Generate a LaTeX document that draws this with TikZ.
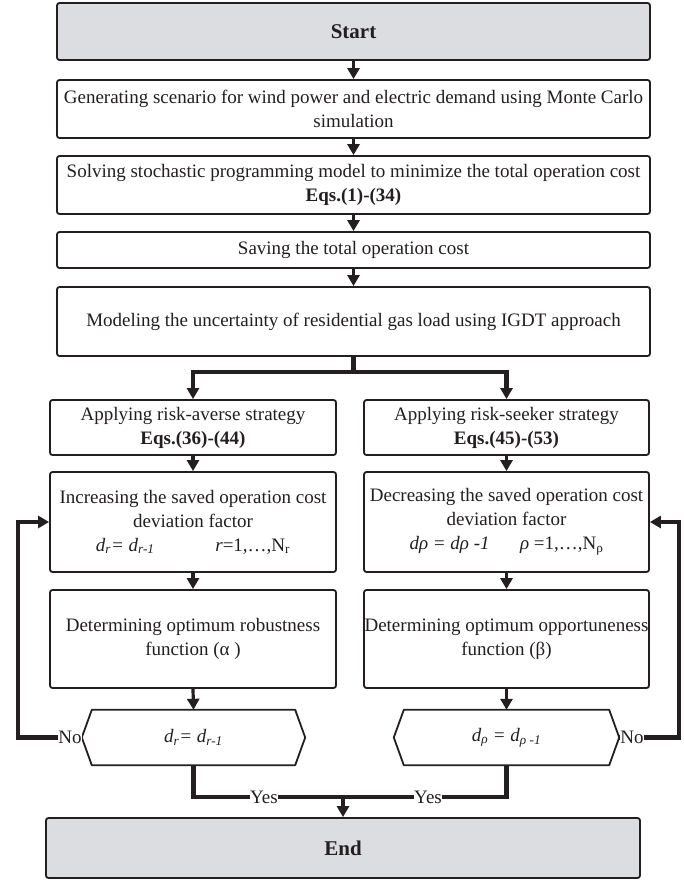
\documentclass[tikz,border=0pt]{standalone}
\usepackage{fontspec}
\setmainfont{Liberation Serif}
\usetikzlibrary{arrows.meta}
\definecolor{ink}{HTML}{231F20}
\definecolor{gbox}{HTML}{DCDDE0}
\begin{document}
\begin{tikzpicture}[x=1pt,y=-1pt,
  box/.style={draw=ink, line width=1.8pt, rounded corners=2.5pt, fill=white, align=center, inner sep=0pt, text=ink, font=\fontsize{19}{24}\selectfont},
  graybox/.style={box, fill=gbox, font=\fontsize{21}{24}\selectfont\bfseries},
  hexa/.style={inner sep=0pt, text=ink, font=\fontsize{19}{23}\selectfont},
  arr/.style={draw=ink, line width=3.2pt, -{Triangle[width=12pt,length=11pt]}},
  thickarr/.style={draw=ink, line width=4.5pt, -{Triangle[width=12pt,length=11pt]}},
  thickline/.style={draw=ink, line width=4.5pt},
  lbl/.style={font=\fontsize{19}{20}\selectfont, text=ink, inner sep=0.5pt, fill=white}
]
\useasboundingbox (0,0) rectangle (684,880);

\node[graybox, minimum width=593pt, minimum height=57pt] (start) at (353.5,31.5) {Start};
\node[box, minimum width=593pt, minimum height=58pt] (gen) at (353.5,109) {Generating scenario for wind power and electric demand using Monte Carlo\\simulation};
\node[box, minimum width=593pt, minimum height=58pt] (solve) at (353.5,185) {Solving stochastic programming model to minimize the total operation cost\\\textbf{Eqs.(1)-(34)}};
\node[box, minimum width=593pt, minimum height=36pt] (save) at (353.5,250) {Saving the total operation cost};
\node[box, minimum width=593pt, minimum height=69pt] (model) at (353.5,321.5) {Modeling the uncertainty of residential gas load using IGDT approach};

\node[box, minimum width=286pt, minimum height=55pt] (applyL) at (193,427.5) {Applying risk-averse strategy\\\textbf{Eqs.(36)-(44)}};
\node[box, minimum width=285pt, minimum height=55pt] (applyR) at (506.5,427.5) {Applying risk-seeker strategy\\\textbf{Eqs.(45)-(53)}};

\node[box, minimum width=286pt, minimum height=100pt] (incL) at (193,522) {Increasing the saved operation cost\\deviation factor\\{\itshape d\textsubscript{r}= d\textsubscript{r-1}}\hspace{3.2em}{\itshape r}=1,\dots,N\textsubscript{r}};
\node[box, minimum width=285pt, minimum height=100pt] (incR) at (506.5,522) {Decreasing the saved operation cost\\deviation factor\\{\itshape dρ = dρ -1}\hspace{1.6em}{\itshape ρ} =1,\dots,N\textsubscript{ρ}};

\node[box, minimum width=286pt, minimum height=98pt] (detL) at (193,639) {Determining optimum robustness\\function (α )};
\node[box, minimum width=285pt, minimum height=98pt] (detR) at (506.5,639) {Determining optimum opportuneness\\function (β)};

\node[hexa, minimum width=223pt, minimum height=55pt] (hexL) at (193.5,737.5) {\itshape d\textsubscript{r}= d\textsubscript{r-1}};
\node[hexa, minimum width=225pt, minimum height=55pt] (hexR) at (506.5,737.5) {\itshape d\textsubscript{ρ} = d\textsubscript{ρ -1}};
\foreach \h in {hexL,hexR}{
  \draw[draw=ink, line width=1.8pt, line join=round] (\h.west) -- ([xshift=10pt]\h.north west) -- ([xshift=-10pt]\h.north east) -- (\h.east) -- ([xshift=-10pt]\h.south east) -- ([xshift=10pt]\h.south west) -- cycle;
}

\node[graybox, minimum width=594pt, minimum height=60pt] (end) at (343,848) {End};

% straight arrows
\draw[arr] (start.south) -- (gen.north);
\draw[arr] (gen.south) -- (solve.north);
\draw[arr] (solve.south) -- (save.north);
\draw[arr] (save.south) -- (model.north);
\draw[arr] (applyL.south) -- (incL.north);
\draw[arr] (applyR.south) -- (incR.north);
\draw[arr] (incL.south) -- (detL.north);
\draw[arr] (incR.south) -- (detR.north);
\draw[arr] (detL.south) -- (hexL.north);
\draw[arr] (detR.south) -- (hexR.north);

% branch
\coordinate (br) at (353.5,372);
\draw[thickline] (model.south) -- (br);
\draw[thickarr] (br) -| (applyL.north);
\draw[thickarr] (br) -| (applyR.north);

% No loops
\coordinate (noL) at (18,737.5);
\coordinate (noR) at (679,737.5);
\draw[thickarr] (hexL.west) -- (noL) |- (incL.west);
\draw[thickarr] (hexR.east) -- (noR) |- (incR.east);
\node[lbl] (noLlbl) at (70,737.5) {No};
\node[lbl] (noRlbl) at (632,737.5) {No};

% Yes join
\coordinate (yj) at (343,797);
\draw[thickline] (hexL.south) |- (yj);
\draw[thickline] (hexR.south) |- (yj);
\draw[arr] (yj) -- (end.north);
\node[lbl] (yesL) at (264,797) {Yes};
\node[lbl] (yesR) at (428,797) {Yes};
\end{tikzpicture}
\end{document}
